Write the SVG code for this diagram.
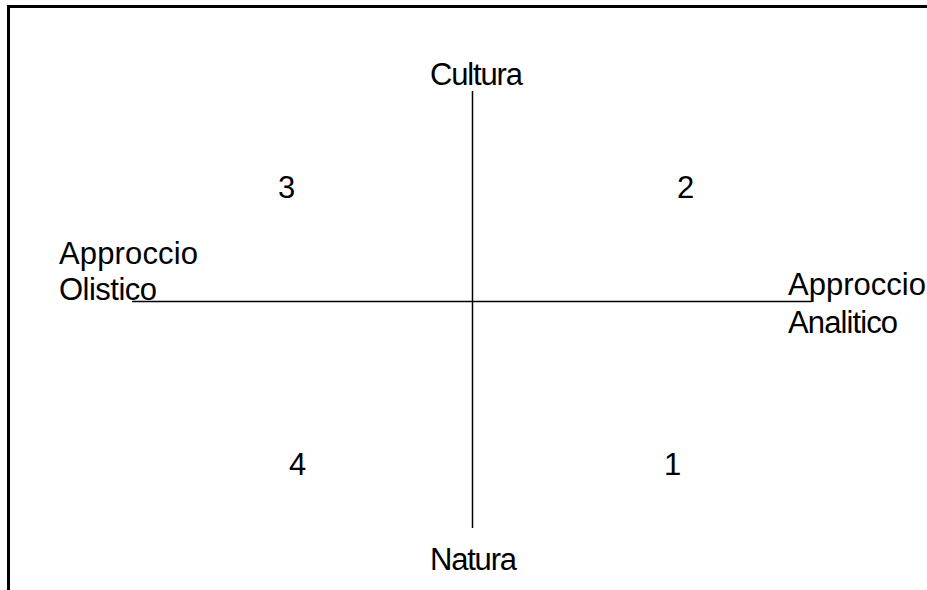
<svg xmlns="http://www.w3.org/2000/svg" width="927" height="590" viewBox="0 0 927 590">
<style>
.frame{fill:none;stroke:#000;stroke-width:3}
.axis{stroke:#000;stroke-width:1.5;fill:none}
.lbl{font-family:"Liberation Sans",Arial,sans-serif;font-size:31px;fill:#000}
</style>
<rect width="927" height="590" fill="#fff"/>
<g id="frame">
<polyline class="frame" points="8.5,590 8.5,6.5 927,6.5"/>
</g>
<g id="connectors">
<line class="axis" x1="472.5" y1="91" x2="472.5" y2="528"/>
<line class="axis" x1="132" y1="301.5" x2="812" y2="301.5"/>
</g>
<g id="node-cultura"><text class="lbl" x="430" y="85" textLength="93" lengthAdjust="spacing">Cultura</text></g>
<g id="node-natura"><text class="lbl" x="430" y="570" textLength="87" lengthAdjust="spacing">Natura</text></g>
<g id="node-olistico"><text class="lbl" x="59" y="264" textLength="139" lengthAdjust="spacing">Approccio</text><text class="lbl" x="59" y="300" textLength="98" lengthAdjust="spacing">Olistico</text></g>
<g id="node-analitico"><text class="lbl" x="788" y="295" textLength="138" lengthAdjust="spacing">Approccio</text><text class="lbl" x="788" y="333" textLength="110" lengthAdjust="spacing">Analitico</text></g>
<g id="q3"><text class="lbl" x="278" y="198">3</text></g>
<g id="q2"><text class="lbl" x="677" y="198">2</text></g>
<g id="q4"><text class="lbl" x="289" y="475">4</text></g>
<g id="q1"><text class="lbl" x="664" y="475">1</text></g>
</svg>
